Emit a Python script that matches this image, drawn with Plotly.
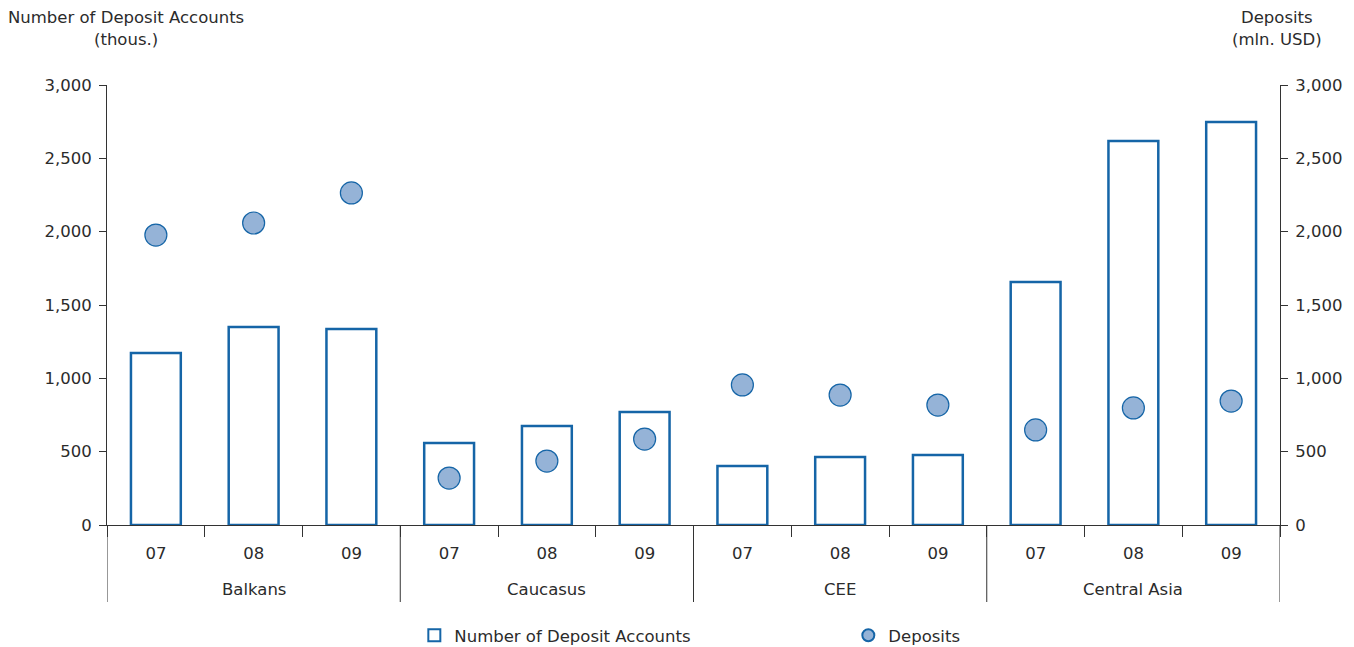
import plotly.graph_objects as go

regions = ["Balkans", "Balkans", "Balkans", "Caucasus", "Caucasus", "Caucasus",
           "CEE", "CEE", "CEE", "Central Asia", "Central Asia", "Central Asia"]
years = ["07", "08", "09"] * 4
accounts = [1173, 1350, 1336, 559, 675, 770, 402, 464, 477, 1657, 2618, 2748]
deposits = [1977, 2059, 2264, 320, 436, 586, 955, 886, 818, 648, 798, 845]
y_ticks = [0, 500, 1000, 1500, 2000, 2500, 3000]
left_title = ["Number of Deposit Accounts", "(thous.)"]
right_title = ["Deposits", "(mln. USD)"]

FONT = "DejaVu Sans"
TXT = "#2b2b2b"
AX = "#333333"
BLUE = "#1565a7"
FS = 16.5

cats = [f"{r} {y}" for r, y in zip(regions, years)]

fig = go.Figure()
fig.add_trace(go.Bar(
    x=cats, y=accounts, name="Number of Deposit Accounts",
    marker=dict(color="white", line=dict(color=BLUE, width=2.5)),
    yaxis="y",
))
fig.add_trace(go.Scatter(
    x=cats, y=deposits, name="Deposits", mode="markers",
    marker=dict(size=22, color="#95b3d7", line=dict(color=BLUE, width=1.2)),
    yaxis="y2",
))

# group boundaries and centres for the region labels
groups = []
for i, r in enumerate(regions):
    if not groups or groups[-1][0] != r:
        groups.append([r, i, i])
    else:
        groups[-1][2] = i

shapes = []
annotations = []
bounds = sorted({g[1] - 0.5 for g in groups} | {g[2] + 0.5 for g in groups})
for b in bounds:
    shapes.append(dict(type="line", xref="x", yref="paper", x0=b, x1=b,
                       y0=0, y1=-0.175, line=dict(color=AX, width=1)))
for name, a, b in groups:
    annotations.append(dict(text=name, xref="x", yref="paper", x=(a + b) / 2,
                            y=-0.1477, xanchor="center", yanchor="middle",
                            showarrow=False, font=dict(size=FS, color=TXT)))

for line, yy in zip(left_title, [1.1545, 1.1023]):
    annotations.append(dict(text=line, xref="paper", yref="paper", x=0.0162, y=yy,
                            xanchor="center", yanchor="middle", showarrow=False,
                            font=dict(size=FS, color=TXT)))
for line, yy in zip(right_title, [1.1545, 1.1023]):
    annotations.append(dict(text=line, xref="paper", yref="paper", x=0.9974, y=yy,
                            xanchor="center", yanchor="middle", showarrow=False,
                            font=dict(size=FS, color=TXT)))

fig.update_layout(
    width=1354, height=647,
    margin=dict(l=99, r=82, t=77, b=130, autoexpand=False),
    paper_bgcolor="white", plot_bgcolor="white",
    font=dict(family=FONT, size=FS, color=TXT),
    bargap=0.49,
    showlegend=True,
    legend=dict(orientation="h", x=0.262, xanchor="left", y=-0.2113, yanchor="top",
                entrywidth=389, font=dict(size=FS, color=TXT),
                itemsizing="constant", bgcolor="rgba(0,0,0,0)"),
    xaxis=dict(type="category", categoryorder="array", categoryarray=cats,
               tickvals=cats, ticktext=years, tickson="boundaries",
               showline=True, linecolor=AX, linewidth=1,
               ticks="outside", ticklen=11, tickcolor=AX, ticklabelstandoff=13,
               showgrid=False, automargin=False, tickfont=dict(size=FS, color=TXT),
               range=[-0.5, len(cats) - 0.5]),
    yaxis=dict(range=[0, 3000], tickvals=y_ticks, tickformat=",", showgrid=False,
               showline=True, linecolor=AX, linewidth=1, ticks="outside",
               ticklen=7, tickcolor=AX, zeroline=False, automargin=False,
               ticklabelstandoff=4, tickfont=dict(size=FS, color=TXT)),
    yaxis2=dict(range=[0, 3000], tickvals=y_ticks, tickformat=",", showgrid=False,
                overlaying="y", side="right", automargin=False,
                showline=True, linecolor=AX, linewidth=1, ticks="outside",
                ticklen=7, tickcolor=AX, zeroline=False, ticklabelstandoff=4,
                tickfont=dict(size=FS, color=TXT)),
    shapes=shapes,
    annotations=annotations,
)

fig.write_html("out.html")
